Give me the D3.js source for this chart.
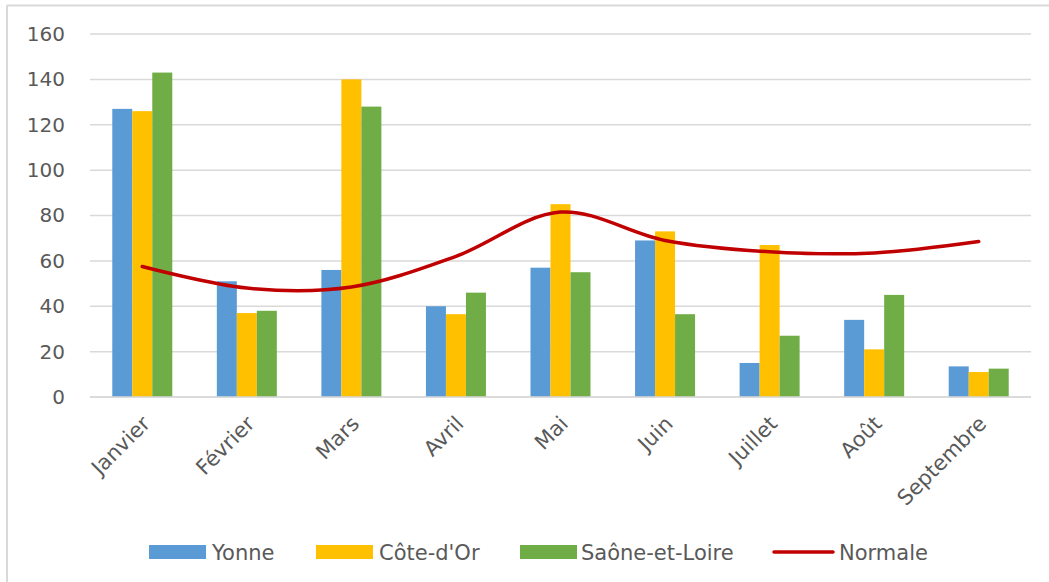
<!DOCTYPE html>
<html>
<head>
<meta charset="utf-8">
<script src="https://cdn.jsdelivr.net/npm/d3@7"></script>
<style>
  body { margin: 0; background: #fff; }
  text { font-family: "DejaVu Sans", sans-serif; fill: #595959; }
</style>
</head>
<body>
<svg id="chart"></svg>
<script>
// data
var months = ["Janvier", "Février", "Mars", "Avril", "Mai", "Juin", "Juillet", "Août", "Septembre"];
var yonne = [127, 51, 56, 40, 57, 69, 15, 34, 13.5];
var coteDOr = [126, 37, 140, 36.5, 85, 73, 67, 21, 11];
var saone = [143, 38, 128, 46, 55, 36.5, 27, 45, 12.5];
var normale = [57.5, 48, 48.5, 62, 81.5, 69, 64, 63.5, 68.5];
var seriesNames = ["Yonne", "Côte-d'Or", "Saône-et-Loire"];
var yTicks = [0, 20, 40, 60, 80, 100, 120, 140, 160];

var width = 1049, height = 582;
var colors = d3.scaleOrdinal().domain(seriesNames).range(["#5b9bd5", "#ffc000", "#70ad47"]);

var svg = d3.select("#chart").attr("width", width).attr("height", height);

// outer frame (top + left only visible)
svg.append("line").attr("x1", 7).attr("x2", width).attr("y1", 5.5).attr("y2", 5.5)
   .attr("stroke", "#d9d9d9").attr("stroke-width", 2);
svg.append("line").attr("x1", 7).attr("x2", 7).attr("y1", 5).attr("y2", height)
   .attr("stroke", "#d9d9d9").attr("stroke-width", 2);

var x = d3.scaleBand().domain(months).range([90, 1031]).paddingInner(0).paddingOuter(0);
var y = d3.scaleLinear().domain([0, 160]).range([397, 34]);
var xs = d3.scaleBand().domain(seriesNames).range([-30, 30]);

// gridlines
svg.append("g").selectAll("line").data(yTicks).enter().append("line")
   .attr("x1", 90).attr("x2", 1031)
   .attr("y1", d => y(d)).attr("y2", d => y(d))
   .attr("stroke", "#d9d9d9").attr("stroke-width", 1.5);

// y axis labels
var yAxis = d3.axisLeft(y).tickValues(yTicks).tickSize(0).tickPadding(0);
var ga = svg.append("g").attr("transform", "translate(65,0)").call(yAxis);
ga.select(".domain").remove();
ga.selectAll("text").style("font-size", "20px").attr("font-family", null).attr("fill", "#595959");

// bars
var table = months.map((m, i) => ({month: m, vals: [yonne[i], coteDOr[i], saone[i]]}));
var groups = svg.append("g").selectAll("g").data(table).enter().append("g")
   .attr("transform", d => "translate(" + (x(d.month) + x.bandwidth() / 2) + ",0)");
groups.selectAll("rect").data(d => d.vals.map((v, j) => ({name: seriesNames[j], v: v})))
   .enter().append("rect")
   .attr("x", d => xs(d.name))
   .attr("width", xs.bandwidth())
   .attr("y", d => y(d.v))
   .attr("height", d => y(0) - y(d.v))
   .attr("fill", d => colors(d.name));

// baseline
svg.append("line").attr("x1", 90).attr("x2", 1031).attr("y1", y(0)).attr("y2", y(0))
   .attr("stroke", "#d9d9d9").attr("stroke-width", 1.5);

// Normale curve
var line = d3.line()
   .x((d, i) => x(months[i]) + x.bandwidth() / 2)
   .y(d => y(d))
   .curve(d3.curveCatmullRom.alpha(0.5));
svg.append("path").datum(normale).attr("d", line)
   .attr("fill", "none").attr("stroke", "#c00000").attr("stroke-width", 3.5)
   .attr("stroke-linecap", "round");

// x labels
svg.append("g").selectAll("text").data(months).enter().append("text")
   .attr("transform", d => "translate(" + (x(d) + x.bandwidth() / 2 + 9) + ",425) rotate(-45)")
   .attr("text-anchor", "end")
   .style("font-size", "21px")
   .text(d => d);

// legend
var legendItems = [
  {name: "Yonne", sx: 149, tx: 212, type: "rect"},
  {name: "Côte-d'Or", sx: 316, tx: 379, type: "rect"},
  {name: "Saône-et-Loire", sx: 520, tx: 581, type: "rect"},
  {name: "Normale", sx: 774, tx: 839, type: "line"}
];
var lg = svg.append("g");
legendItems.forEach(function(it) {
  if (it.type === "rect") {
    lg.append("rect").attr("x", it.sx).attr("y", 545).attr("width", 57).attr("height", 14)
      .attr("fill", colors(it.name));
  } else {
    lg.append("line").attr("x1", it.sx).attr("x2", it.sx + 59).attr("y1", 552).attr("y2", 552)
      .attr("stroke", "#c00000").attr("stroke-width", 3.5).attr("stroke-linecap", "round");
  }
  lg.append("text").attr("x", it.tx).attr("y", 559.5).style("font-size", "21px").text(it.name);
});
</script>
</body>
</html>
